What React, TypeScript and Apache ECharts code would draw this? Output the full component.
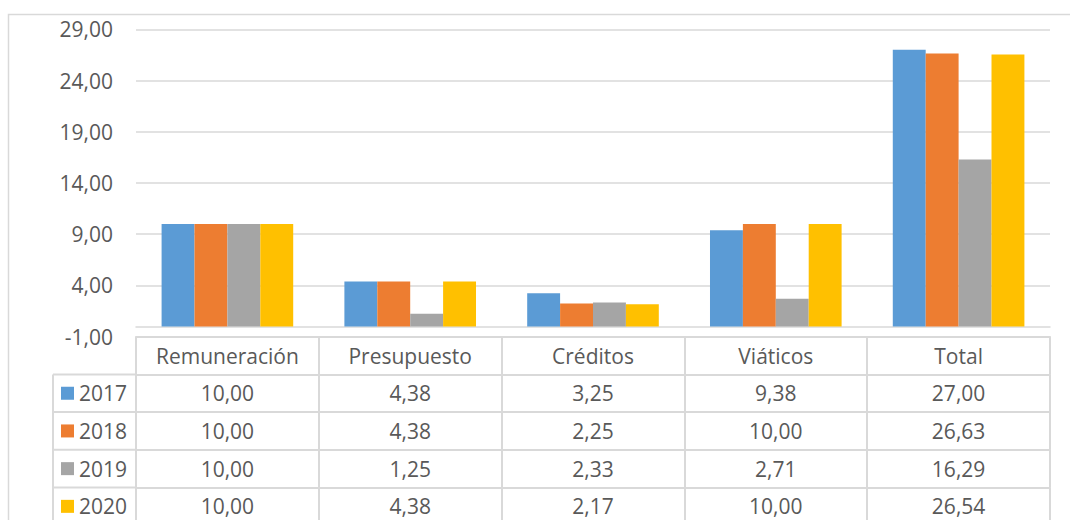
import { useEffect, useRef } from "react";
import * as echarts from "echarts";

const categories = ["Remuneración", "Presupuesto", "Créditos", "Viáticos", "Total"];
const years = ["2017", "2018", "2019", "2020"];
const values2017 = [10.0, 4.38, 3.25, 9.38, 27.0];
const values2018 = [10.0, 4.38, 2.25, 10.0, 26.63];
const values2019 = [10.0, 1.25, 2.33, 2.71, 16.29];
const values2020 = [10.0, 4.38, 2.17, 10.0, 26.54];
const seriesValues = [values2017, values2018, values2019, values2020];
const colors = ["#5B9BD5", "#ED7D31", "#A5A5A5", "#FFC000"];
const yMin = -1;
const yMax = 29;
const yStep = 5;

const W = 1070;
const H = 520;
const GRID_LEFT = 136;
const GRID_RIGHT = 20;
const GRID_TOP = 29.3;
const GRID_BOTTOM_Y = 336.7;
const ROW_H = 37.7;
const TABLE_LEFT = 53;
const LINE_C = "#D9D9D9";
const TEXT_C = "#595959";
const FONT = "'Open Sans', 'Noto Sans', sans-serif";
const FS = 21;

const fmt = (v: number) => v.toFixed(2).replace(".", ",");

export default function App() {
  const ref = useRef<HTMLDivElement>(null);
  useEffect(() => {
    document.body.style.margin = "0";
    if (!ref.current) return;
    const chart = echarts.init(ref.current, null, { renderer: "svg" });

    const baseX = {
      type: "category" as const,
      data: categories,
      gridIndex: 0,
      position: "bottom" as const,
    };
    const tableAxis = (offset: number, formatter?: (v: string, i: number) => string) => ({
      ...baseX,
      offset,
      axisLine: { show: true, onZero: false, lineStyle: { color: LINE_C, width: 2 } },
      axisTick: { show: true, length: ROW_H, inside: false, alignWithLabel: false, lineStyle: { color: LINE_C, width: 2 } },
      axisLabel: {
        show: true,
        interval: 0,
        margin: ROW_H / 2,
        verticalAlign: "middle",
        fontSize: FS,
        color: TEXT_C,
        fontFamily: FONT,
        formatter: formatter,
      },
      splitLine: { show: false },
    });

    const lineSeg = (x1: number, y1: number, x2: number, y2: number) => ({
      type: "line",
      shape: { x1, y1, x2, y2 },
      style: { stroke: LINE_C, lineWidth: 2 },
      silent: true,
    });

    const graphics: any[] = [
      {
        type: "rect",
        shape: { x: 8.5, y: 14.5, width: W + 100, height: H + 100 },
        style: { fill: "none", stroke: LINE_C, lineWidth: 1.5 },
        silent: true,
      },
      lineSeg(TABLE_LEFT, GRID_BOTTOM_Y + ROW_H, TABLE_LEFT, H + 20),
    ];
    for (let i = 1; i <= years.length; i++) {
      graphics.push(lineSeg(TABLE_LEFT, GRID_BOTTOM_Y + ROW_H * i, GRID_LEFT, GRID_BOTTOM_Y + ROW_H * i));
    }

    chart.setOption({
      animation: false,
      backgroundColor: "#FFFFFF",
      grid: {
        left: GRID_LEFT,
        right: GRID_RIGHT,
        top: GRID_TOP,
        bottom: H - GRID_BOTTOM_Y,
        containLabel: false,
      },
      legend: {
        orient: "vertical",
        left: 61,
        top: GRID_BOTTOM_Y + ROW_H + ROW_H / 2 - 11,
        padding: 0,
        itemWidth: 13,
        itemHeight: 13,
        itemGap: ROW_H - 22,
        icon: "rect",
        selectedMode: false,
        textStyle: { fontSize: FS, color: TEXT_C, lineHeight: 22, fontFamily: FONT },
        data: years,
      },
      xAxis: [
        {
          ...baseX,
          axisLine: { show: true, onZero: true, lineStyle: { color: LINE_C, width: 1.5 } },
          axisTick: { show: false },
          axisLabel: { show: false },
          splitLine: { show: false },
        },
        tableAxis(0),
        ...seriesValues.map((vals, i) =>
          tableAxis(ROW_H * (i + 1), (_v: string, idx: number) => fmt(vals[idx]))
        ),
      ],
      yAxis: {
        type: "value",
        min: yMin,
        max: yMax,
        interval: yStep,
        axisLine: { show: false },
        axisTick: { show: false },
        axisLabel: {
          formatter: (v: number) => fmt(v),
          margin: 23,
          fontSize: FS,
          color: TEXT_C,
          fontFamily: FONT,
        },
        splitLine: { show: true, lineStyle: { color: LINE_C, width: 1.5 } },
      },
      series: seriesValues.map((vals, i) => ({
        name: years[i],
        type: "bar",
        xAxisIndex: 0,
        yAxisIndex: 0,
        data: vals,
        barGap: "0%",
        barCategoryGap: "28%",
        itemStyle: { color: colors[i] },
      })),
      graphic: graphics,
    });

    return () => chart.dispose();
  }, []);

  return <div ref={ref} style={{ width: W, height: H }} />;
}
